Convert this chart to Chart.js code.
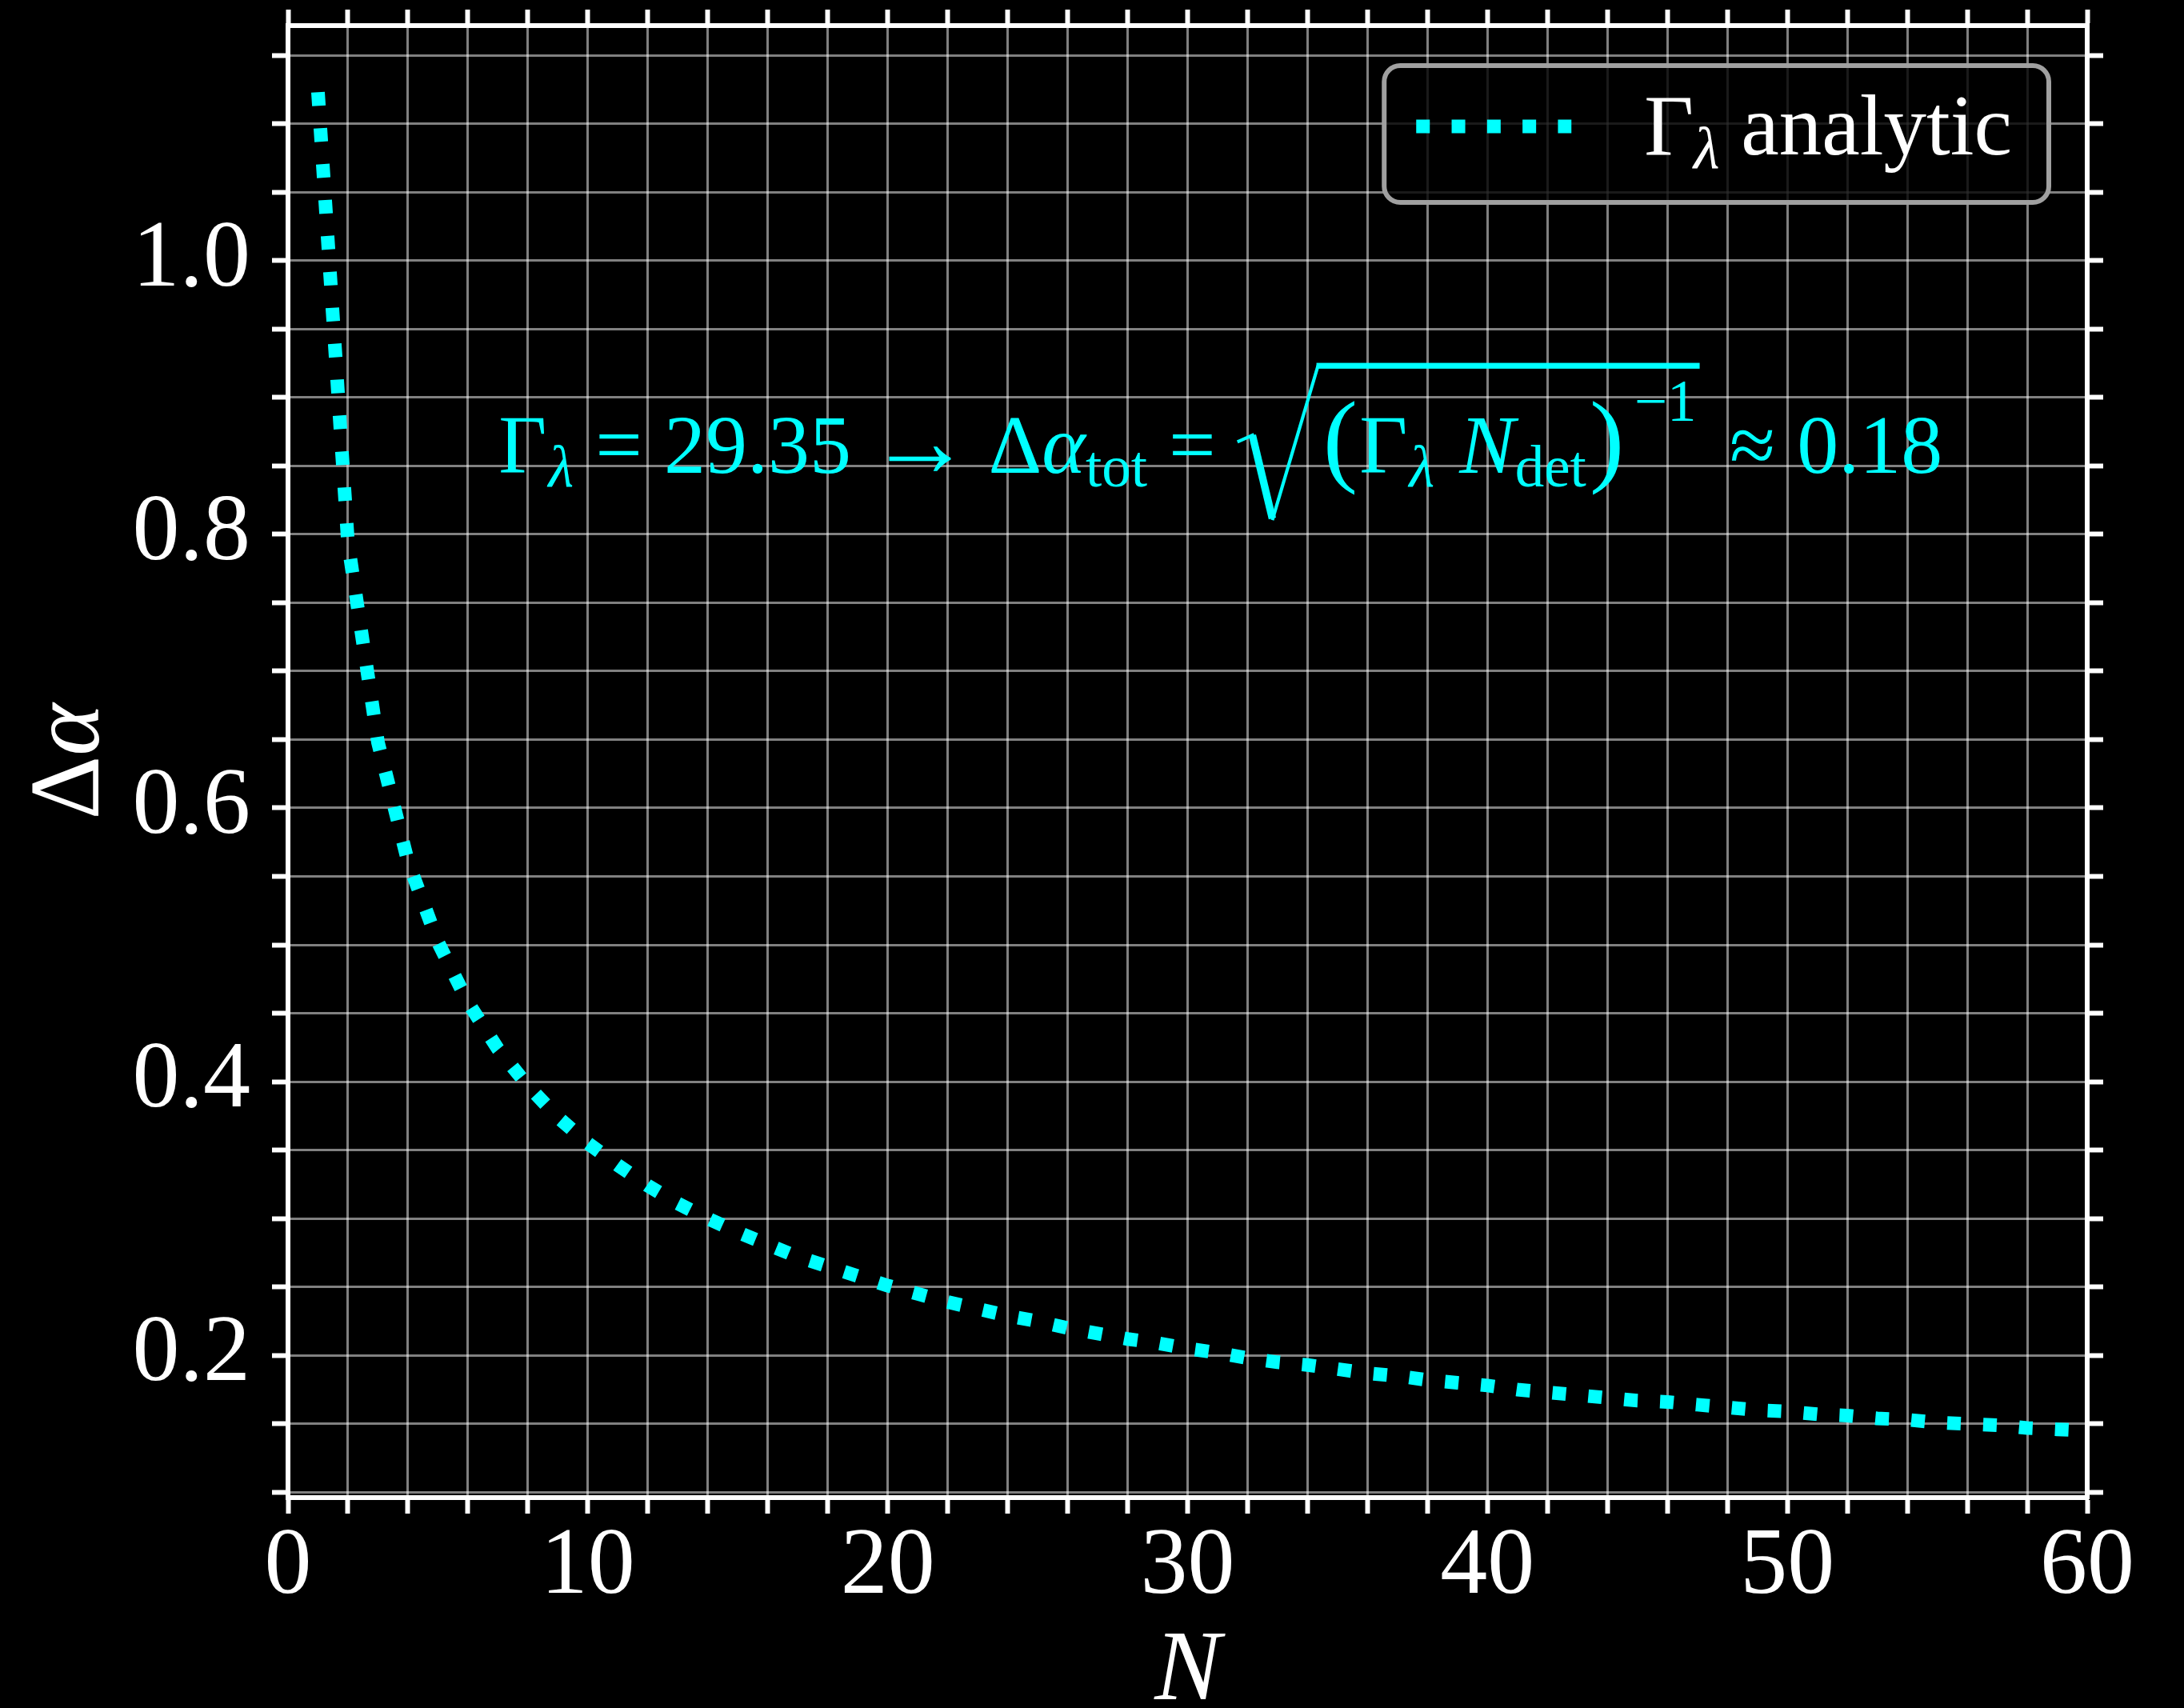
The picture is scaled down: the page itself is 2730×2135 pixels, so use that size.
<!DOCTYPE html>
<html>
<head>
<meta charset="utf-8">
<script src="https://cdn.jsdelivr.net/npm/chart.js@4.4.1/dist/chart.umd.min.js"></script>
<style>
html,body{margin:0;padding:0;background:#000;}
canvas{display:block;}
</style>
</head>
<body>
<canvas id="c" width="2730" height="2135"></canvas>
<script>
// number of detections N and the resulting error on alpha
var nVals=[1,2,3,4,5,6,7,8,9,10,11,12,13,14,15,16,17,18,19,20,
21,22,23,24,25,26,27,28,29,30,31,32,33,34,35,36,37,38,39,40,
41,42,43,44,45,46,47,48,49,50,51,52,53,54,55,56,57,58,59,60];
var dAlpha=[1.123,0.794,0.648,0.561,0.502,0.458,0.424,0.397,0.374,0.355,
0.339,0.324,0.311,0.300,0.290,0.281,0.272,0.265,0.258,0.251,
0.245,0.239,0.234,0.229,0.225,0.220,0.216,0.212,0.209,0.205,
0.202,0.198,0.195,0.193,0.190,0.187,0.185,0.182,0.180,0.178,
0.175,0.173,0.171,0.169,0.167,0.166,0.164,0.162,0.160,0.159,
0.157,0.156,0.154,0.153,0.151,0.150,0.149,0.147,0.146,0.145];

var xTicks=[0,2,4,6,8,10,12,14,16,18,20,22,24,26,28,30,32,34,36,38,40,42,44,46,48,50,52,54,56,58,60];
var xLabels=[0,10,20,30,40,50,60];
var yTicks=[0.10,0.15,0.20,0.25,0.30,0.35,0.40,0.45,0.50,0.55,0.60,0.65,0.70,0.75,0.80,0.85,0.90,0.95,1.00,1.05,1.10,1.15];
var yLabels=[0.2,0.4,0.6,0.8,1.0];
var yMin=0.0961, yMax=1.1717;

var seriesName='Γλ analytic';
// pieces of the legend entry: [text, kind]
var legendParts=[['Γ','rm'],['λ','subit'],[' analytic','rm']];
// annotation pieces: [text, kind, gap before]
var annotParts=[
 ['Γ','rm',0],['λ','subit',2],['=','rm',26],['29.35','rm',26],['→','arrow',20],
 ['Δ','rm',20],['α','it',0],['tot','sub',0],['=','rm',26],
 ['','root',26],['(','big',6],['Γ','rm',2],['λ','subit',2],['N','it',30],['det','sub',0],
 [')','big',4],['−1','sup',12],['','rootend',4],['≈','rm',36],['0.18','rm',26]
];
var annotAt=[31.1,0.845];

var fam='"Liberation Serif"';
var cyan='#00ffff';

function pFont(kind,F){
  if(kind=='it') return 'italic '+F+'px '+fam;
  if(kind=='subit') return 'italic '+Math.round(F*0.7)+'px '+fam;
  if(kind=='sub'||kind=='sup') return Math.round(F*0.7)+'px '+fam;
  if(kind=='big') return Math.round(F*1.25)+'px '+fam;
  if(kind=='arrow') return Math.round(F*1.25)+'px '+fam;
  return F+'px '+fam;
}
function pDy(kind,F){
  if(kind=='sub'||kind=='subit') return 0.16*F;
  if(kind=='sup') return -0.62*F;
  if(kind=='arrow') return 0.04*F;
  return 0;
}

// lays out text pieces from x on baseline yb; returns total width
function runParts(ctx,parts,x,yb,F,draw){
  var x0=x, rootX=0, s=F/100;
  for(var i=0;i<parts.length;i++){
    var p=parts[i], gap=(p[2]||0)*s;
    x+=gap;
    if(p[1]=='root'){ rootX=x; x+=97*s; continue; }
    if(p[1]=='rootend'){
      if(draw){
        ctx.save();
        ctx.strokeStyle=ctx.fillStyle;
        ctx.lineJoin='miter';
        ctx.lineWidth=4*s;
        ctx.beginPath();
        ctx.moveTo(rootX,yb-37*s);ctx.lineTo(rootX+20*s,yb-46*s);
        ctx.stroke();
        ctx.lineWidth=9*s;
        ctx.beginPath();
        ctx.moveTo(rootX+18*s,yb-45*s);ctx.lineTo(rootX+42*s,yb+55*s);
        ctx.stroke();
        ctx.lineWidth=4*s;
        ctx.beginPath();
        ctx.moveTo(rootX+42*s,yb+57*s);ctx.lineTo(rootX+97*s,yb-129*s);
        ctx.stroke();
        ctx.fillRect(rootX+95*s,yb-132*s,x-(rootX+95*s),7*s);
        ctx.restore();
      }
      continue;
    }
    ctx.font=pFont(p[1],F);
    var w=ctx.measureText(p[0]).width;
    if(draw) ctx.fillText(p[0],x,yb+pDy(p[1],F));
    x+=w;
  }
  return x-x0;
}

var overlay={
  id:'overlay',
  beforeDraw:function(chart){
    var ctx=chart.ctx;
    ctx.save();ctx.fillStyle='#000';ctx.fillRect(0,0,chart.width,chart.height);ctx.restore();
  },
  afterDraw:function(chart){
    var ctx=chart.ctx, ca=chart.chartArea;
    var xs=chart.scales.x, ys=chart.scales.y;

    // y-axis title, rotated
    ctx.save();
    ctx.fillStyle='#fff';
    ctx.textBaseline='alphabetic';
    ctx.translate(ca.left-237,(ca.top+ca.bottom)/2);
    ctx.rotate(-Math.PI/2);
    ctx.font='124px '+fam;
    var w1=ctx.measureText('Δ').width;
    ctx.font='italic 124px '+fam;
    var w2=ctx.measureText('α').width;
    ctx.font='124px '+fam;
    ctx.fillText('Δ',-(w1+w2)/2,0);
    ctx.font='italic 124px '+fam;
    ctx.fillText('α',-(w1+w2)/2+w1,0);
    ctx.restore();

    // formula annotation
    ctx.save();
    ctx.fillStyle=cyan;
    ctx.textBaseline='alphabetic';
    var F=104;
    var tw=runParts(ctx,annotParts,0,0,F,false);
    var cx=xs.getPixelForValue(annotAt[0]), by=ys.getPixelForValue(annotAt[1]);
    runParts(ctx,annotParts,cx-tw/2,by,F,true);
    ctx.restore();

    // legend box
    var ds=chart.data.datasets[0];
    var LF=107;
    ctx.save();
    ctx.textBaseline='alphabetic';
    var lp=legendParts.map(function(p){return [p[0],p[1],0];});
    var textW=runParts(ctx,lp,0,0,LF,false);
    var lineLen=194, bw=40+lineLen+91+textW+46, bh=171;
    var bx=ca.right-48-bw, by2=ca.top+50, r=20;
    ctx.beginPath();
    ctx.moveTo(bx+r,by2);ctx.lineTo(bx+bw-r,by2);ctx.arcTo(bx+bw,by2,bx+bw,by2+r,r);
    ctx.lineTo(bx+bw,by2+bh-r);ctx.arcTo(bx+bw,by2+bh,bx+bw-r,by2+bh,r);
    ctx.lineTo(bx+r,by2+bh);ctx.arcTo(bx,by2+bh,bx,by2+bh-r,r);
    ctx.lineTo(bx,by2+r);ctx.arcTo(bx,by2,bx+r,by2,r);
    ctx.closePath();
    ctx.fillStyle='rgba(0,0,0,0.8)';
    ctx.fill();
    ctx.lineWidth=6;
    ctx.strokeStyle='#a0a0a0';
    ctx.stroke();
    ctx.strokeStyle=ds.borderColor;
    ctx.lineWidth=ds.borderWidth;
    ctx.lineCap='butt';
    ctx.setLineDash([17,27.3]);
    ctx.beginPath();
    ctx.moveTo(bx+40,by2+76);ctx.lineTo(bx+40+lineLen,by2+76);
    ctx.stroke();
    ctx.setLineDash([]);
    ctx.fillStyle='#fff';
    runParts(ctx,lp,bx+40+lineLen+91,by2+111,LF,true);
    ctx.restore();
  }
};

function setTicks(list){
  return function(s){ s.ticks=list.map(function(v){return {value:v};}); };
}
// fixed axis sizes, no extra room for overhanging labels
function fixW(w){ return function(s){ s.width=w; s.paddingTop=0; s.paddingBottom=0; }; }
function fixH(h){ return function(s){ s.height=h; s.paddingLeft=0; s.paddingRight=0; }; }

var gridCfg={color:'rgba(255,255,255,0.5)',lineWidth:3,tickColor:'#fff',tickWidth:6,tickLength:20};
var borderCfg={color:'#fff',width:6};

var chart=new Chart(document.getElementById('c').getContext('2d'),{
  type:'line',
  data:{
    datasets:[{
      label:seriesName,
      data:nVals.map(function(n,i){return {x:n,y:dAlpha[i]};}),
      borderColor:cyan,
      borderWidth:17,
      borderDash:[17,28],
      borderCapStyle:'butt',
      pointRadius:0,
      tension:0,
      fill:false,
      clip:0
    }]
  },
  options:{
    responsive:false,
    animation:false,
    devicePixelRatio:1,
    layout:{padding:0},
    plugins:{legend:{display:false},tooltip:{enabled:false}},
    scales:{
      x:{
        type:'linear',position:'bottom',min:0,max:60,
        afterBuildTicks:setTicks(xTicks),
        afterFit:fixH(263),
        grid:gridCfg,border:borderCfg,
        ticks:{
          autoSkip:false,maxRotation:0,padding:9,color:'#fff',
          font:{family:'Liberation Serif',size:118,lineHeight:1},
          callback:function(v){ return xLabels.indexOf(v)>=0 ? String(v) : ''; }
        },
        title:{display:true,text:'N',color:'#fff',
          font:{family:'Liberation Serif',size:124,style:'italic',lineHeight:1},
          padding:{top:0,bottom:-18}}
      },
      x2:{
        type:'linear',position:'top',min:0,max:60,
        afterBuildTicks:setTicks(xTicks),
        afterFit:fixH(32),
        grid:Object.assign({},gridCfg,{drawOnChartArea:false}),border:borderCfg,
        ticks:{display:false,autoSkip:false}
      },
      y:{
        type:'linear',position:'left',min:yMin,max:yMax,
        afterBuildTicks:setTicks(yTicks),
        afterFit:fixW(360),
        grid:gridCfg,border:borderCfg,
        ticks:{
          autoSkip:false,padding:27,color:'#fff',
          font:{family:'Liberation Serif',size:118,lineHeight:1},
          callback:function(v){
            for(var i=0;i<yLabels.length;i++){ if(Math.abs(yLabels[i]-v)<1e-6) return v.toFixed(1); }
            return '';
          }
        }
      },
      y2:{
        type:'linear',position:'right',min:yMin,max:yMax,
        afterBuildTicks:setTicks(yTicks),
        afterFit:fixW(121),
        grid:Object.assign({},gridCfg,{drawOnChartArea:false}),border:borderCfg,
        ticks:{display:false,autoSkip:false}
      }
    }
  },
  plugins:[overlay]
});
</script>
</body>
</html>
